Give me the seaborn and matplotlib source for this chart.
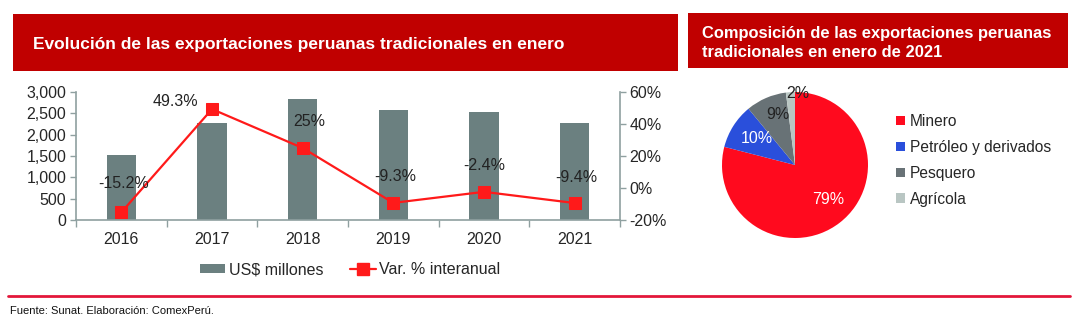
import numpy as np
import matplotlib
matplotlib.use("Agg")
import matplotlib.pyplot as plt
import seaborn as sns
from matplotlib.patches import Rectangle, Patch
from matplotlib.lines import Line2D
from matplotlib.ticker import FuncFormatter, FixedLocator

# --- data -------------------------------------------------------------
years = ["2016", "2017", "2018", "2019", "2020", "2021"]
exports_musd = [1520, 2270, 2840, 2580, 2520, 2280]
yoy_pct = [-15.2, 49.3, 25, -9.3, -2.4, -9.4]
yoy_labels = ["-15.2%", "49.3%", "25%", "-9.3%", "-2.4%", "-9.4%"]

sectors = ["Minero", "Petróleo y derivados", "Pesquero", "Agrícola"]
shares = [79, 10, 9, 2]
share_labels = ["79%", "10%", "9%", "2%"]

title_left = "Evolución de las exportaciones peruanas tradicionales en enero"
title_right = "Composición de las exportaciones peruanas\ntradicionales en enero de 2021"
source_note = "Fuente: Sunat. Elaboración: ComexPerú."

# --- style ------------------------------------------------------------
sns.set_theme(style="white")
plt.rcParams["font.family"] = ["Liberation Sans", "DejaVu Sans"]

BAR = "#6b8080"
LINE = "#ff1a1a"
AXIS = "#8fa0a0"
HEADER = "#c00000"
PIE_COLORS = ["#ff0a1e", "#2a4fdb", "#687276", "#b9c6c3"]
PIE_TEXT = ["white", "white", "#222222", "#222222"]
FS = 11.5

W, H = 1085, 323
fig = plt.figure(figsize=(W / 100, H / 100), dpi=100)


def fx(px):
    return px / W


def fy(py):
    return 1 - py / H


# header boxes
fig.add_artist(Rectangle((fx(13), fy(71)), fx(678) - fx(13), fy(14) - fy(71),
                         transform=fig.transFigure, color=HEADER, lw=0))
fig.text(fx(33), fy(44), title_left, color="white", fontsize=12.5,
         fontweight="bold", va="center", ha="left")
fig.add_artist(Rectangle((fx(688), fy(68)), fx(1068) - fx(688), fy(13) - fy(68),
                         transform=fig.transFigure, color=HEADER, lw=0))
fig.text(fx(702), fy(43), title_right, color="white", fontsize=11.9,
         fontweight="bold", va="center", ha="left", linespacing=1.4)

# --- bar + line chart -------------------------------------------------
ax = fig.add_axes([fx(76), fy(220), fx(620) - fx(76), fy(92) - fy(220)])
sns.barplot(x=years, y=exports_musd, ax=ax, color=BAR, width=0.32,
            saturation=1, edgecolor="none")
ax.set_xlim(-0.5, len(years) - 0.5)
ax.set_ylim(0, 3000)
ax.set_yticks(np.arange(0, 3001, 500))
ax.yaxis.set_major_formatter(FuncFormatter(lambda v, p: f"{int(v):,}"))
ax.tick_params(axis="y", which="major", length=4, color=AXIS, width=1,
               labelsize=FS, pad=3, direction="out", left=True)
ax.tick_params(axis="x", which="major", length=0, labelsize=FS, pad=9)
ax.xaxis.set_minor_locator(FixedLocator(np.arange(-0.5, len(years), 1.0)))
ax.tick_params(axis="x", which="minor", length=5, color=AXIS, width=1,
               direction="out", bottom=True)
for s in ["left", "bottom"]:
    ax.spines[s].set_color(AXIS)
    ax.spines[s].set_linewidth(1.2)
ax.spines["top"].set_visible(False)
ax.spines["right"].set_visible(False)
ax.set_xlabel("")
ax.set_ylabel("")

ax2 = ax.twinx()
xpos = np.arange(len(years))
sns.lineplot(x=xpos, y=yoy_pct, ax=ax2, color=LINE, lw=1.6, marker="s",
             markersize=8, markeredgecolor=LINE, markerfacecolor=LINE)
ax2.set_ylim(-20, 60)
ax2.set_xlim(-0.5, len(years) - 0.5)
ax2.set_yticks([-20, 0, 20, 40, 60])
ax2.yaxis.set_major_formatter(FuncFormatter(lambda v, p: f"{int(v)}%"))
ax2.tick_params(axis="y", length=4, color=AXIS, width=1, labelsize=FS,
                pad=3, direction="out", right=True)
ax2.spines["right"].set_color(AXIS)
ax2.spines["right"].set_linewidth(1.2)
for s in ["left", "top", "bottom"]:
    ax2.spines[s].set_visible(False)
ax2.set_ylabel("")
ax2.grid(False)
ax.grid(False)

offsets = [(2, 29), (-37, 8), (7, 26), (2, 26), (0, 26), (2, 26)]
for x, y, lab, off in zip(xpos, yoy_pct, yoy_labels, offsets):
    ax2.annotate(lab, (x, y), xytext=off, textcoords="offset pixels",
                 ha="center", va="center", fontsize=FS, color="#222222")

handles = [Patch(facecolor=BAR, edgecolor="none", label="US$ millones"),
           Line2D([], [], color=LINE, lw=1.6, marker="s", markersize=8,
                  label="Var. % interanual")]
fig.legend(handles=handles, loc="center", bbox_to_anchor=(fx(350), fy(270)),
           ncol=2, frameon=False, fontsize=FS, handlelength=1.6,
           handleheight=0.5, handletextpad=0.2, columnspacing=1.7,
           borderaxespad=0)

# --- pie chart --------------------------------------------------------
cx, cy, r = 795, 165, 73
pax = fig.add_axes([fx(cx - r), fy(cy + r), fx(2 * r), (2 * r) / H])
wedges, _ = pax.pie(shares, colors=PIE_COLORS, startangle=90,
                    counterclock=False, radius=1.0,
                    wedgeprops=dict(linewidth=0))
pax.set_xlim(-1, 1)
pax.set_ylim(-1, 1)
pax.set_aspect("equal")
label_pos = [(0.45, -0.47), (-0.52, 0.36), (-0.23, 0.69), (0.04, 0.98)]
for (lx, ly), lab, col in zip(label_pos, share_labels, PIE_TEXT):
    pax.text(lx, ly, lab, ha="center", va="center", fontsize=FS, color=col)

leg_handles = [Patch(facecolor=c, edgecolor="none", label=s)
               for c, s in zip(PIE_COLORS, sectors)]
fig.legend(handles=leg_handles, loc="upper left",
           bbox_to_anchor=(fx(896), fy(114)), frameon=False, fontsize=11.2,
           handlelength=0.55, handleheight=0.55, handletextpad=0.35,
           labelspacing=0.7, borderaxespad=0, borderpad=0)

# --- footer -----------------------------------------------------------
fig.add_artist(Line2D([fx(8), fx(1070)], [fy(296), fy(296)],
                      transform=fig.transFigure, color="#e3173a", lw=2.0))
fig.text(fx(10), fy(311), source_note, fontsize=8, ha="left", va="center",
         color="#111111",
         family=["Liberation Sans Narrow", "Liberation Sans", "DejaVu Sans"])

fig.savefig("out.png", dpi=100)
